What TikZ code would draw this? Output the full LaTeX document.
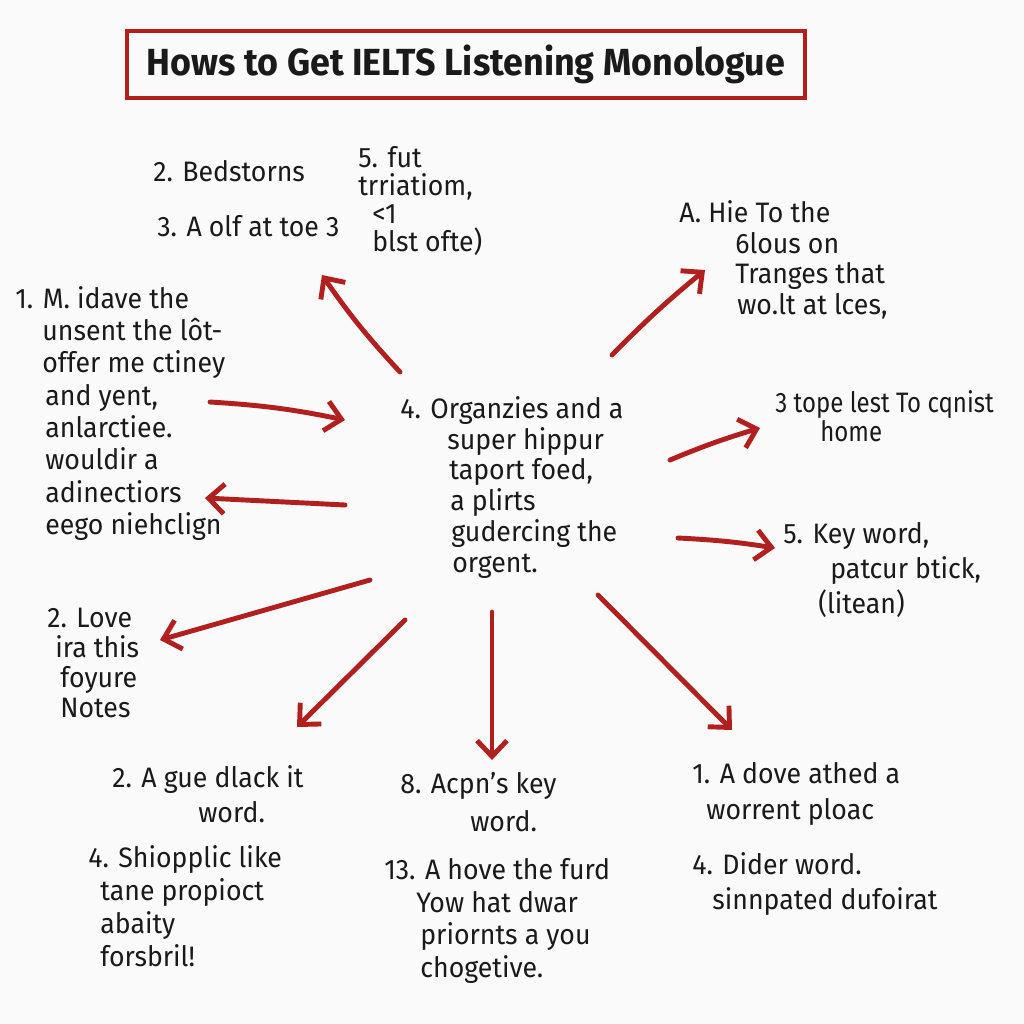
\documentclass[tikz,border=0pt]{standalone}
\usepackage{fontspec}
\setmainfont{Fira Sans}[FakeStretch=0.95]
\usetikzlibrary{arrows.meta}
\definecolor{ink}{HTML}{1A1A1A}
\definecolor{redink}{HTML}{B0201E}
\newdimen\pxu \pxu=0.5690551pt
\newcommand\indt[1]{\hspace*{#1\pxu}}
\begin{document}
\begin{tikzpicture}[x=0.02cm,y=-0.02cm,
  txt/.style={inner sep=0pt, anchor=north west, align=left, text=ink, font=\fontsize{16}{#1}\selectfont},
  txt/.default=18,
  arr/.style={draw=redink, line width=2.8pt, line cap=round, line join=round, -{Straight Barb[length=9pt,width=17pt]}},
  titlebox/.style={draw=redink, line width=1.8pt, text=ink, inner sep=0pt, minimum width=13.56cm, minimum height=1.34cm, font=\bfseries\fontsize{21.5}{24}\selectfont}]
\fill[white!98!black] (0,0) rectangle (1024,1024);
\useasboundingbox (0,0) rectangle (1024,1024);

\node[titlebox] (title) at (466,64.5) {Hows to Get IELTS Listening Monologue};

\node[txt] (bed) at (153,160) {2. Bedstorns};
\node[txt] (olf) at (157,215) {3. A olf at toe 3};
\node[txt=16] (fut) at (358,146) {5. fut\\trriatiom,\\\indt{14}<1\\\indt{14}blst ofte)};

\node[txt=18.4] (idave) at (15,286) {1. M. idave the\\\indt{27}unsent the lôt-\\\indt{27}offer me ctiney\\\indt{30}and yent,\\\indt{30}anlarctiee.\\\indt{30}wouldir a\\\indt{30}adinectiors\\\indt{30}eego niehclign};

\node[txt=17.5] (org) at (400,396) {4. Organzies and a\\\indt{47}super hippur\\\indt{49}taport foed,\\\indt{50}a plirts\\\indt{51}gudercing the\\\indt{52}orgent.};

\node[txt=17.5] (hie) at (679,200) {A. Hie To the\\\indt{56}6lous on\\\indt{56}Tranges that\\\indt{58}wo.lt at lces,};
\node[txt=16.5, xscale=0.9, transform shape] (tope) at (775,390) {3 tope lest To cqnist\\\indt{50}home};
\node[txt=20] (key) at (783,522) {5. Key word,\\\indt{47}patcur btick,\\\indt{35}(litean)};

\node[txt=17] (love) at (47,608) {2. Love\\\indt{8}ira this\\\indt{13}foyure\\\indt{13}Notes};

\node[txt=20] (gue) at (112,765) {2. A gue dlack it\\\indt{86}word.};
\node[txt=18.8] (shio) at (88,845) {4. Shiopplic like\\\indt{12}tane propioct\\\indt{12}abaity\\\indt{12}forsbril!};
\node[txt=21.6] (acpn) at (400,772) {8. Acpn's key\\\indt{70}word.};
\node[txt=18.6] (hove) at (384,858) {13. A hove the furd\\\indt{32}Yow hat dwar\\\indt{36}priornts a you\\\indt{36}chogetive.};
\node[txt=20.5] (dove) at (692,762) {1. A dove athed a\\\indt{14}worrent ploac};
\node[txt=20] (dider) at (692,852) {4. Dider word.\\\indt{20}sinnpated dufoirat};

% arrow end points
\coordinate (s1) at (400,372); \coordinate (e1) at (322,275);
\coordinate (s2) at (612,355); \coordinate (e2) at (705,270);
\coordinate (s3) at (210,402); \coordinate (e3) at (345,420);
\coordinate (s4) at (345,505); \coordinate (e4) at (205,498);
\coordinate (s5) at (670,460); \coordinate (e5) at (760,428);
\coordinate (s6) at (678,538); \coordinate (e6) at (775,548);
\coordinate (s7) at (370,580); \coordinate (e7) at (160,640);
\coordinate (s8) at (405,620); \coordinate (e8) at (297,727);
\coordinate (s9) at (492,612); \coordinate (e9) at (492,760);
\coordinate (s10) at (598,595); \coordinate (e10) at (732,730);

\draw[arr] (s1) to[bend left=4] (e1);
\draw[arr] (s2) to[bend left=3] (e2);
\draw[arr] (s3) to[bend left=4] (e3);
\draw[arr] (s4) -- (e4);
\draw[arr] (s5) to[bend left=3] (e5);
\draw[arr] (s6) to[bend left=3] (e6);
\draw[arr] (s7) -- (e7);
\draw[arr] (s8) -- (e8);
\draw[arr] (s9) -- (e9);
\draw[arr] (s10) -- (e10);
\end{tikzpicture}
\end{document}
